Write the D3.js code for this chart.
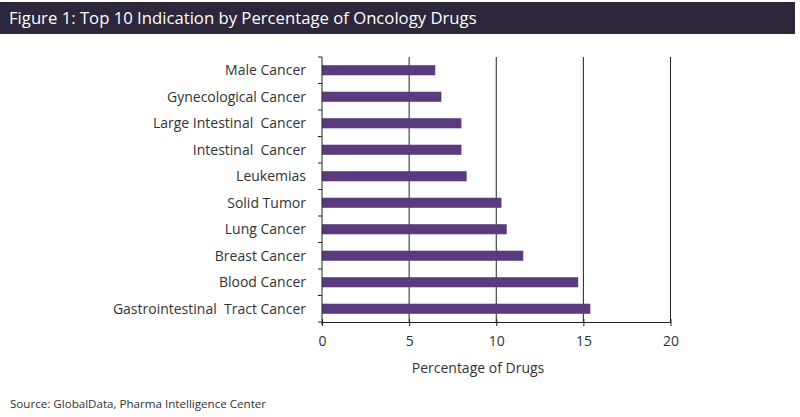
<html>
  <head>
    <style>
      body { margin: 0; background: #fff; }
      svg text { font-family: "Open Sans", Lato, sans-serif; }
    </style>
  </head>
  <body>
    <svg id="chart" width="800" height="417"></svg>
    <script src="https://cdnjs.cloudflare.com/ajax/libs/d3/7.8.5/d3.min.js"></script>
    <script>
var categories = ['Male Cancer', 'Gynecological Cancer', 'Large Intestinal  Cancer', 'Intestinal  Cancer',
                  'Leukemias', 'Solid Tumor', 'Lung Cancer', 'Breast Cancer', 'Blood Cancer',
                  'Gastrointestinal  Tract Cancer'];
var values = [6.5, 6.85, 8.0, 8.0, 8.3, 10.3, 10.6, 11.55, 14.7, 15.4];
var xTicks = [0, 5, 10, 15, 20];

var svg = d3.select('#chart');
var plotLeft = 322, plotRight = 670.5, plotTop = 57, plotBottom = 322;

// title bar
svg.append('rect').attr('x', 0).attr('y', 2).attr('width', 795).attr('height', 32).attr('fill', '#2e263b');
svg.append('text').attr('x', 9).attr('y', 24).attr('fill', '#fff').style('font-size', '16.7px')
   .text('Figure 1: Top 10 Indication by Percentage of Oncology Drugs');

var x = d3.scaleLinear().domain([0, 20]).range([plotLeft, plotRight]);
var y = d3.scaleBand().domain(categories).range([plotTop, plotBottom]).paddingInner(0.62).paddingOuter(0.31);

// gridlines
svg.append('g').selectAll('line').data(xTicks.slice(1)).join('line')
   .attr('x1', d => x(d)).attr('x2', d => x(d)).attr('y1', plotTop).attr('y2', plotBottom)
   .attr('stroke', '#222').attr('stroke-width', 1);

// bars
svg.append('g').selectAll('rect').data(values).join('rect')
   .attr('x', x(0)).attr('y', (d, i) => y(categories[i]))
   .attr('width', d => x(d) - x(0)).attr('height', y.bandwidth())
   .attr('fill', '#5b3b7e');

// x axis
var xAxis = svg.append('g').attr('transform', 'translate(0,' + plotBottom + ')')
   .call(d3.axisBottom(x).tickValues(xTicks).tickSize(4).tickPadding(10).tickSizeOuter(0));
xAxis.select('.domain').attr('stroke', '#222');
xAxis.selectAll('.tick line').attr('stroke', '#222').attr('y1', -3);
xAxis.selectAll('.tick text').style('font-size', '14px').attr('fill', '#333');

// y axis with ticks at band boundaries
var n = categories.length;
var yAxisG = svg.append('g');
yAxisG.append('line').attr('x1', plotLeft).attr('x2', plotLeft).attr('y1', plotTop).attr('y2', plotBottom + 3).attr('stroke', '#222');
yAxisG.selectAll('line.t').data(d3.range(n + 1)).join('line').attr('class', 't')
   .attr('x1', plotLeft - 4).attr('x2', plotLeft)
   .attr('y1', i => plotTop + i * (plotBottom - plotTop) / n)
   .attr('y2', i => plotTop + i * (plotBottom - plotTop) / n).attr('stroke', '#222');
yAxisG.selectAll('text').data(categories).join('text')
   .attr('x', 306).attr('y', d => y(d) + y.bandwidth() / 2).attr('dy', '0.35em')
   .attr('text-anchor', 'end').style('font-size', '14px').attr('fill', '#333')
   .style('white-space', 'pre')
   .text(d => d);

svg.append('text').attr('x', 478).attr('y', 373).attr('text-anchor', 'middle')
   .style('font-size', '14px').attr('fill', '#333').text('Percentage of Drugs');

svg.append('text').attr('x', 10).attr('y', 408).style('font-size', '11.6px').attr('fill', '#333')
   .text('Source: GlobalData, Pharma Intelligence Center');
    </script>
  </body>
</html>
